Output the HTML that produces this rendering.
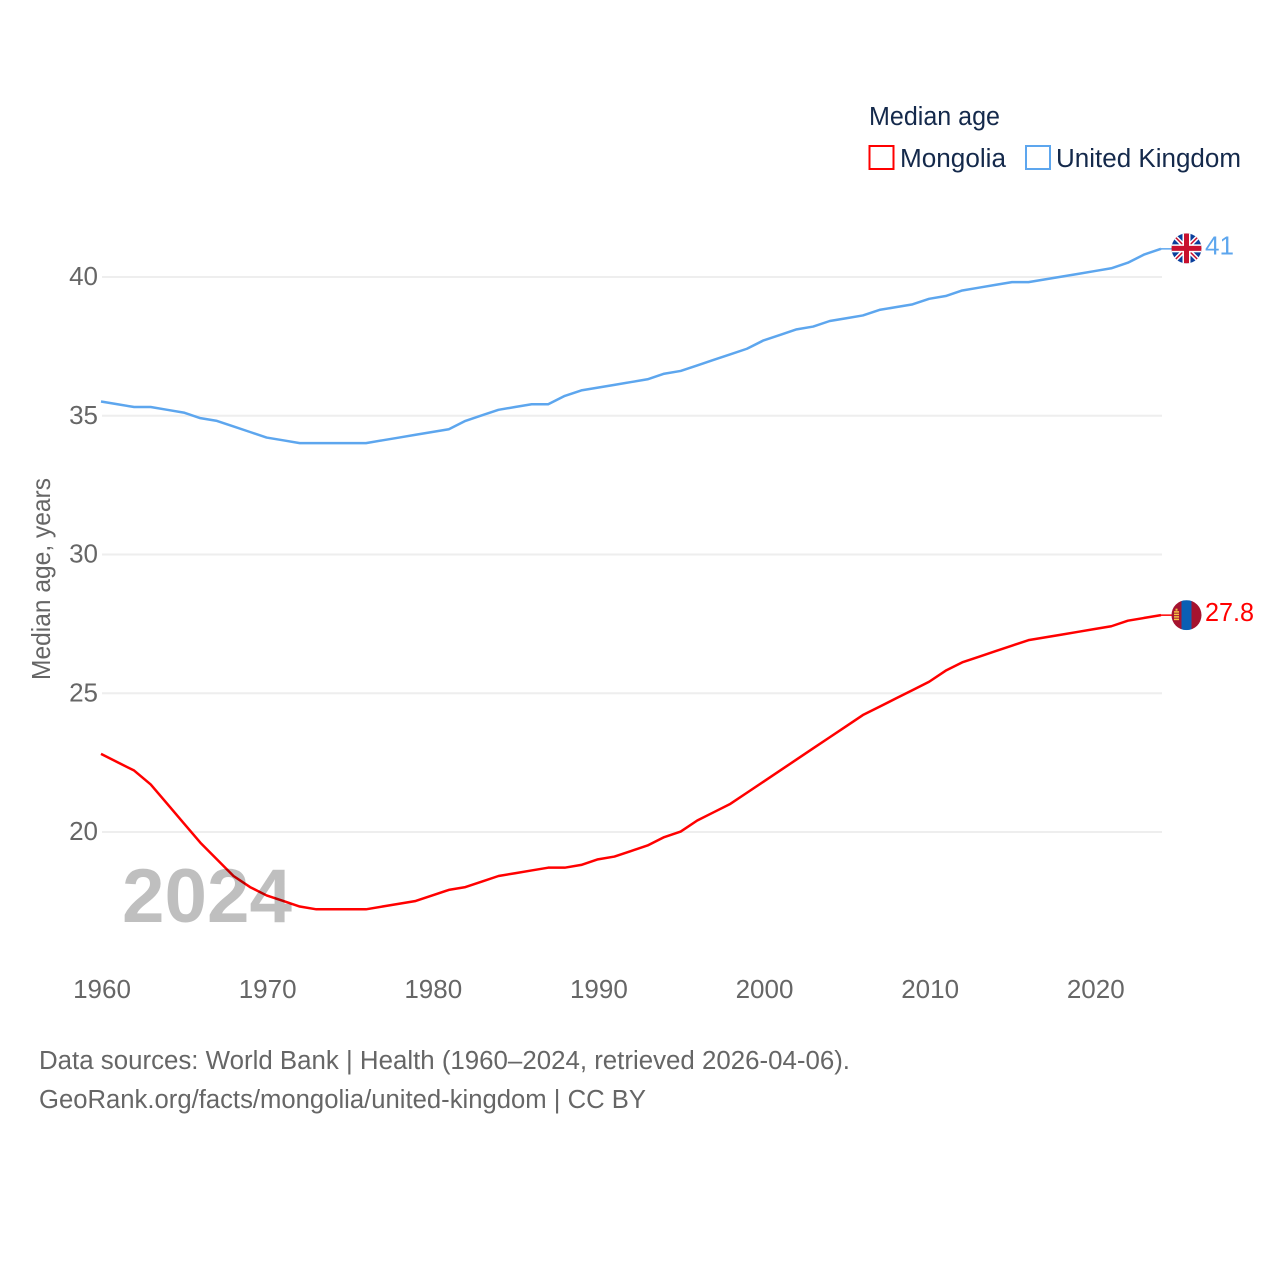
<!DOCTYPE html>
<html lang="en">
<head>
<meta charset="utf-8">
<title>Median age: Mongolia and United Kingdom</title>
<style>
html,body{margin:0;padding:0;background:#fff;width:1280px;height:1280px;overflow:hidden}
svg{display:block;font-family:"Liberation Sans",sans-serif}
.tick{font-size:26px;fill:#666}
.leg{font-size:25.5px;fill:#14294b}
.foot{font-size:25.5px;fill:#666}
</style>
</head>
<body>
<svg id="chart" width="1280" height="1280" viewBox="0 0 1280 1280" xmlns="http://www.w3.org/2000/svg">
  <defs>
    <clipPath id="flag-clip-uk"><circle cx="0" cy="0" r="15"></circle></clipPath>
    <clipPath id="flag-clip-mn"><circle cx="0" cy="0" r="15"></circle></clipPath>
  </defs>
  <g id="grid"></g>
  <g id="y-ticks"></g>
  <g id="x-ticks"></g>
  <text class="tick" transform="translate(50,579) rotate(-90)" text-anchor="middle" textLength="202" lengthAdjust="spacingAndGlyphs">Median age, years</text>
  <g id="lines"></g>
  <text x="122" y="922" font-size="76" font-weight="700" fill="#000" fill-opacity="0.25" textLength="170" lengthAdjust="spacingAndGlyphs">2024</text>

  <g id="flag-uk" clip-path="url(#flag-clip-uk)">
    <rect x="-15" y="-15" width="30" height="30" fill="#0a3f9c"></rect>
    <path d="M-15 -15L15 15M15 -15L-15 15" stroke="#fff" stroke-width="4.5"></path>
    <path d="M-15 -15L15 15M15 -15L-15 15" stroke="#c8102e" stroke-width="1.5"></path>
    <rect x="-15" y="-4" width="30" height="8" fill="#fff"></rect>
    <rect x="-4" y="-15" width="8" height="30" fill="#fff"></rect>
    <rect x="-15" y="-2.5" width="30" height="5" fill="#c8102e"></rect>
    <rect x="-2.5" y="-15" width="5" height="30" fill="#c8102e"></rect>
  </g>
  <g id="flag-mn" clip-path="url(#flag-clip-mn)">
    <rect x="-15" y="-15" width="10" height="30" fill="#a5132f"></rect>
    <rect x="-5" y="-15" width="10" height="30" fill="#0a5fb4"></rect>
    <rect x="5" y="-15" width="10" height="30" fill="#a5132f"></rect>
    <rect x="-12.5" y="-4" width="5" height="1.5" fill="#f4c542"></rect>
    <rect x="-12.5" y="-1.5" width="5" height="1.5" fill="#f4c542"></rect>
    <rect x="-12.5" y="1" width="5" height="1.5" fill="#f4c542"></rect>
    <rect x="-12.5" y="3.5" width="5" height="1.5" fill="#f4c542"></rect>
    <rect x="-11" y="-6.5" width="2" height="2" fill="#f4c542"></rect>
  </g>
  <text id="uk-label" x="1205" font-size="25.5" fill="#5da6ee" textLength="29" lengthAdjust="spacingAndGlyphs">41</text>
  <text id="mn-label" x="1205" font-size="25.5" fill="#ff0000" textLength="49" lengthAdjust="spacingAndGlyphs">27.8</text>

  <text class="leg" x="869" y="125" textLength="131" lengthAdjust="spacingAndGlyphs">Median age</text>
  <rect x="869.5" y="146" width="24" height="23" fill="#fff" stroke="#ff0000" stroke-width="2"></rect>
  <text class="leg" x="900" y="167" textLength="106" lengthAdjust="spacingAndGlyphs">Mongolia</text>
  <rect x="1026" y="146" width="24" height="23" fill="#fff" stroke="#5da6ee" stroke-width="2"></rect>
  <text class="leg" x="1056" y="167" textLength="185" lengthAdjust="spacingAndGlyphs">United Kingdom</text>

  <text class="foot" x="39" y="1069" textLength="811" lengthAdjust="spacingAndGlyphs">Data sources: World Bank | Health (1960–2024, retrieved 2026-04-06).</text>
  <text class="foot" x="39" y="1108" textLength="607" lengthAdjust="spacingAndGlyphs">GeoRank.org/facts/mongolia/united-kingdom | CC BY</text>
</svg>
<script>
const startYear = 1960;
const endYear = 2024;
const yTickValues = [20, 25, 30, 35, 40];
const xTickValues = [1960, 1970, 1980, 1990, 2000, 2010, 2020];
const mongoliaValues = [22.8,22.5,22.2,21.7,21.0,20.3,19.6,19.0,18.4,18.0,17.7,17.5,17.3,17.2,17.2,17.2,17.2,17.3,17.4,17.5,17.7,17.9,18.0,18.2,18.4,18.5,18.6,18.7,18.7,18.8,19.0,19.1,19.3,19.5,19.8,20.0,20.4,20.7,21.0,21.4,21.8,22.2,22.6,23.0,23.4,23.8,24.2,24.5,24.8,25.1,25.4,25.8,26.1,26.3,26.5,26.7,26.9,27.0,27.1,27.2,27.3,27.4,27.6,27.7,27.8];
const ukValues = [35.5,35.4,35.3,35.3,35.2,35.1,34.9,34.8,34.6,34.4,34.2,34.1,34.0,34.0,34.0,34.0,34.0,34.1,34.2,34.3,34.4,34.5,34.8,35.0,35.2,35.3,35.4,35.4,35.7,35.9,36.0,36.1,36.2,36.3,36.5,36.6,36.8,37.0,37.2,37.4,37.7,37.9,38.1,38.2,38.4,38.5,38.6,38.8,38.9,39.0,39.2,39.3,39.5,39.6,39.7,39.8,39.8,39.9,40.0,40.1,40.2,40.3,40.5,40.8,41.0];

const NS = 'http://www.w3.org/2000/svg';
const plotLeft = 101, plotRight = 1161;
const xScale = function (year) { return plotLeft + (year - startYear) * (plotRight - plotLeft) / (endYear - startYear); };
const yScale = function (value) { return 831.6 - (value - 20) * (831.6 - 276.6) / 20; };

const gridGroup = document.getElementById('grid');
const yTickGroup = document.getElementById('y-ticks');
const xTickGroup = document.getElementById('x-ticks');
const lineGroup = document.getElementById('lines');

yTickValues.forEach(function (value) {
  const rule = document.createElementNS(NS, 'line');
  
  
  rule.setAttribute('x1', plotLeft + 1);
  rule.setAttribute('x2', plotRight + 1);
  rule.setAttribute('y1', yScale(value) + 0.4);
  rule.setAttribute('y2', yScale(value) + 0.4);
  rule.setAttribute('stroke', '#eeeeee');
  rule.setAttribute('stroke-width', '2');
  gridGroup.appendChild(rule);

  const label = document.createElementNS(NS, 'text');
  
  
  label.setAttribute('class', 'tick');
  label.setAttribute('x', 98);
  label.setAttribute('y', yScale(value) + 8.4);
  label.setAttribute('text-anchor', 'end');
  label.textContent = value;
  yTickGroup.appendChild(label);
});

xTickValues.forEach(function (year) {
  const label = document.createElementNS(NS, 'text');
  
  
  label.setAttribute('class', 'tick');
  label.setAttribute('x', xScale(year) + 1);
  label.setAttribute('y', 998);
  label.setAttribute('text-anchor', 'middle');
  label.textContent = year;
  xTickGroup.appendChild(label);
});

function drawSeries(values, color, name) {
  const points = values.map(function (value, i) {
    return xScale(startYear + i).toFixed(2) + ',' + yScale(value).toFixed(2);
  });
  const lastY = yScale(values[values.length - 1]);

  const connector = document.createElementNS(NS, 'line');
  
  
  connector.setAttribute('x1', plotRight);
  connector.setAttribute('x2', plotRight + 13);
  connector.setAttribute('y1', lastY);
  connector.setAttribute('y2', lastY);
  connector.setAttribute('stroke', color);
  connector.setAttribute('stroke-width', '1.5');
  lineGroup.appendChild(connector);

  const line = document.createElementNS(NS, 'polyline');
  
  
  line.setAttribute('points', points.join(' '));
  line.setAttribute('fill', 'none');
  line.setAttribute('stroke', color);
  line.setAttribute('stroke-width', '2.5');
  line.setAttribute('stroke-linejoin', 'round');
  lineGroup.appendChild(line);
  return lastY;
}

const mnEnd = drawSeries(mongoliaValues, '#ff0000', 'mongolia');
const ukEnd = drawSeries(ukValues, '#5da6ee', 'united-kingdom');

document.getElementById('flag-mn').setAttribute('transform', 'translate(1186.5,' + mnEnd + ')');
document.getElementById('flag-uk').setAttribute('transform', 'translate(1186.5,' + (ukEnd - 0.5) + ')');
document.getElementById('mn-label').setAttribute('y', mnEnd + 6);
document.getElementById('uk-label').setAttribute('y', ukEnd + 5.5);
document.getElementById('mn-label').textContent = mongoliaValues[mongoliaValues.length - 1].toFixed(1);
document.getElementById('uk-label').textContent = Math.round(ukValues[ukValues.length - 1] * 10) / 10;
</script>
</body>
</html>
